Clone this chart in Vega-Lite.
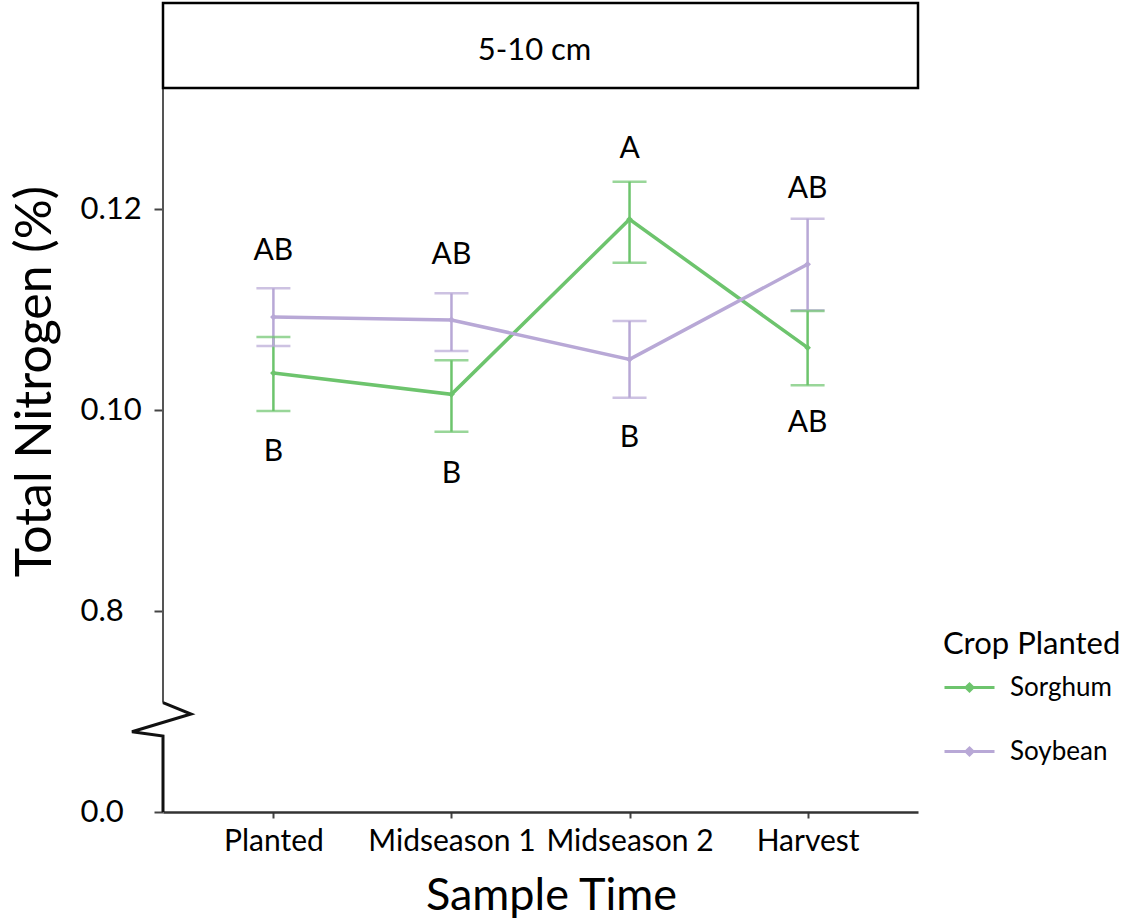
{
  "$schema": "https://vega.github.io/schema/vega-lite/v6.json",
  "width": 755,
  "height": 809,
  "autosize": {"type": "none"},
  "padding": {"left": 163, "top": 3, "right": 213, "bottom": 107},
  "background": "white",
  "config": {"font": "Lato", "view": {"stroke": null}, "axis": {"grid": false}},
  "datasets": {
    "means": [
      {"crop": "Sorghum", "time": "Planted", "mean": 0.10368, "lo": 0.0999, "hi": 0.10726},
      {"crop": "Sorghum", "time": "Midseason 1", "mean": 0.10156, "lo": 0.09784, "hi": 0.10495},
      {"crop": "Sorghum", "time": "Midseason 2", "mean": 0.11898, "lo": 0.11466, "hi": 0.12272},
      {"crop": "Sorghum", "time": "Harvest", "mean": 0.1062, "lo": 0.10246, "hi": 0.10985},
      {"crop": "Soybean", "time": "Planted", "mean": 0.10925, "lo": 0.10637, "hi": 0.11211},
      {"crop": "Soybean", "time": "Midseason 1", "mean": 0.10896, "lo": 0.10587, "hi": 0.11161},
      {"crop": "Soybean", "time": "Midseason 2", "mean": 0.10504, "lo": 0.10122, "hi": 0.10886},
      {"crop": "Soybean", "time": "Harvest", "mean": 0.1145, "lo": 0.10992, "hi": 0.11904}
    ],
    "letters": [
      {"time": "Planted", "label": "AB", "ly": 0.11582},
      {"time": "Midseason 1", "label": "AB", "ly": 0.11542},
      {"time": "Midseason 2", "label": "A", "ly": 0.12597},
      {"time": "Harvest", "label": "AB", "ly": 0.12199},
      {"time": "Planted", "label": "B", "ly": 0.09582},
      {"time": "Midseason 1", "label": "B", "ly": 0.09363},
      {"time": "Midseason 2", "label": "B", "ly": 0.09721},
      {"time": "Harvest", "label": "AB", "ly": 0.09871}
    ],
    "axisline": [
      {"seg": "upper", "x": 0, "y": 0.13204},
      {"seg": "upper", "x": 0, "y": 0.07088},
      {"seg": "break", "x": 0, "y": 0.07088},
      {"seg": "break", "x": 0.0371, "y": 0.06975},
      {"seg": "break", "x": -0.0411, "y": 0.06799},
      {"seg": "break", "x": 0, "y": 0.06756},
      {"seg": "break", "x": 0, "y": 0.06}
    ]
  },
  "layer": [
    {
      "layer": [
        {
          "data": {"name": "axisline"},
          "transform": [{"filter": "datum.seg == 'upper'"}],
          "mark": {"type": "line", "color": "#555555", "strokeWidth": 2},
          "encoding": {
            "x": {"field": "x", "type": "quantitative", "scale": {"domain": [0, 1]}, "axis": null},
            "y": {"field": "y", "type": "quantitative", "title": "Total Nitrogen (%)"},
            "order": {"field": "y", "sort": "descending"}
          }
        },
        {
          "data": {"name": "axisline"},
          "transform": [{"filter": "datum.seg == 'break'"}],
          "mark": {"type": "line", "color": "#111111", "strokeWidth": 3},
          "encoding": {
            "x": {"field": "x", "type": "quantitative", "scale": {"domain": [0, 1]}, "axis": null},
            "y": {"field": "y", "type": "quantitative", "title": "Total Nitrogen (%)"},
            "order": {"field": "y", "sort": "descending"}
          }
        },
        {
          "data": {"values": [{"panel": "5-10 cm"}]},
          "mark": {"type": "rect", "fill": "white", "stroke": "black", "strokeWidth": 2.5},
          "encoding": {
            "y": {"datum": 0.13204, "type": "quantitative", "title": "Total Nitrogen (%)"},
            "y2": {"datum": 0.1405}
          }
        },
        {
          "data": {"values": [{"panel": "5-10 cm"}]},
          "mark": {"type": "text", "fontSize": 31, "color": "black", "dx": -6},
          "encoding": {
            "y": {"datum": 0.1357, "type": "quantitative", "title": "Total Nitrogen (%)"},
            "text": {"field": "panel"}
          }
        }
      ]
    },
    {
      "encoding": {
        "x": {
          "field": "time",
          "type": "nominal",
          "sort": ["Planted", "Midseason 1", "Midseason 2", "Harvest"],
          "scale": {"type": "point", "padding": 0.62},
          "title": "Sample Time",
          "axis": {
            "domain": true, "domainColor": "#333333", "domainWidth": 2.5,
            "ticks": true, "tickSize": 6, "tickWidth": 2, "tickColor": "#444444",
            "labelFontSize": 30, "labelColor": "black", "labelPadding": 8, "labelAngle": 0,
            "titleFontSize": 45, "titleFontWeight": "normal", "titleColor": "black", "titlePadding": 17,
            "titleX": 388
          }
        }
      },
      "layer": [
        {
          "data": {"name": "means"},
          "mark": {"type": "rule", "strokeWidth": 2.5},
          "encoding": {
            "y": {
              "field": "lo", "type": "quantitative", "title": "Total Nitrogen (%)",
              "scale": {"domain": [0.06, 0.1405], "nice": false, "zero": false},
              "axis": {
                "values": [0.06, 0.08, 0.1, 0.12],
                "labelExpr": "datum.value < 0.07 ? '0.0' : datum.value < 0.09 ? '0.8' : format(datum.value, '.2f')",
                "domain": false, "ticks": true, "tickSize": 9, "tickWidth": 2, "tickColor": "#444444",
                "labelFontSize": 31, "labelColor": "black", "labelAlign": "left", "labelPadding": 74,
                "titleFontSize": 50, "titleFontWeight": "normal", "titleColor": "black", "titlePadding": 20,
                "titleY": 378
              }
            },
            "y2": {"field": "hi"},
            "color": {
              "field": "crop", "type": "nominal",
              "scale": {"domain": ["Sorghum", "Soybean"], "range": ["#6dc46d", "#b8a8d6"]},
              "legend": {
                "title": "Crop Planted", "orient": "none", "legendX": 780, "legendY": 627,
                "symbolType": "M-1,0L1,0M0,-0.14L0.14,0L0,0.14L-0.14,0Z", "symbolSize": 2500, "symbolStrokeWidth": 3,
                "titleFontSize": 31, "titleFontWeight": "normal", "titleColor": "black", "titleLimit": 400, "titlePadding": 0,
                "labelFontSize": 26, "labelColor": "black", "labelLimit": 300, "labelOffset": 14,
                "rowPadding": 24, "padding": 0,
                "encode": {"symbols": {"update": {"fill": {"scale": "color", "field": "value"}, "opacity": {"value": 1}}}}
              }
            }
          }
        },
        {
          "data": {"name": "means"},
          "mark": {"type": "tick", "size": 34, "thickness": 2.5},
          "encoding": {
            "y": {"field": "lo", "type": "quantitative", "title": "Total Nitrogen (%)"},
            "color": {"field": "crop", "type": "nominal"}
          }
        },
        {
          "data": {"name": "means"},
          "mark": {"type": "tick", "size": 34, "thickness": 2.5},
          "encoding": {
            "y": {"field": "hi", "type": "quantitative", "title": "Total Nitrogen (%)"},
            "color": {"field": "crop", "type": "nominal"}
          }
        },
        {
          "data": {"name": "means"},
          "mark": {"type": "line", "strokeWidth": 3.5},
          "encoding": {
            "y": {"field": "mean", "type": "quantitative", "title": "Total Nitrogen (%)"},
            "color": {"field": "crop", "type": "nominal"}
          }
        },
        {
          "data": {"name": "means"},
          "mark": {"type": "point", "shape": "diamond", "filled": true, "size": 45, "opacity": 1},
          "encoding": {
            "y": {"field": "mean", "type": "quantitative", "title": "Total Nitrogen (%)"},
            "color": {"field": "crop", "type": "nominal"}
          }
        },
        {
          "data": {"name": "letters"},
          "mark": {"type": "text", "fontSize": 30, "color": "black"},
          "encoding": {
            "y": {"field": "ly", "type": "quantitative", "title": "Total Nitrogen (%)"},
            "text": {"field": "label"}
          }
        }
      ]
    }
  ],
  "resolve": {"scale": {"x": "independent"}, "axis": {"x": "independent"}}
}
